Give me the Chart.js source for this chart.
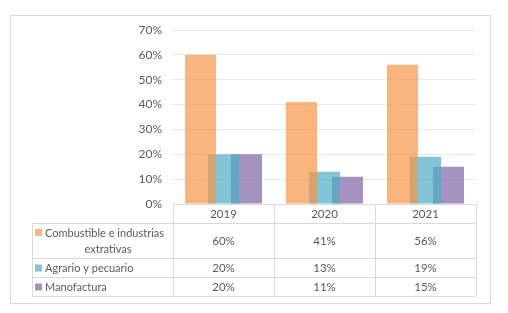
<!DOCTYPE html>
<html>
<head>
<meta charset="utf-8">
<script src="https://cdn.jsdelivr.net/npm/chart.js@4/dist/chart.umd.min.js"></script>
<style>
  html, body { margin: 0; padding: 0; background: #fff; }
  #frame { position: absolute; left: 10px; top: 15px; width: 479px; height: 287px; border: 1px solid #d9d9d9; }
  #wrap { position: absolute; left: 0; top: 0; width: 508px; height: 313px; }
</style>
</head>
<body>
<div id="frame"></div>
<div id="wrap"><canvas id="barChart" width="508" height="313"></canvas></div>
<script>
const years = ["2019", "2020", "2021"];
const seriesNames = ["Combustible e industrias extrativas", "Agrario y pecuario", "Manofactura"];
const combustible = [0.60, 0.41, 0.56];
const agrario = [0.20, 0.13, 0.19];
const manofactura = [0.20, 0.11, 0.15];
const yTicks = [0, 0.1, 0.2, 0.3, 0.4, 0.5, 0.6, 0.7];

const colors = ["rgba(247,150,70,0.7)", "rgba(75,172,198,0.7)", "rgba(128,100,162,0.7)"];
const textColor = "#595959";
const fontFamily = "Lato, 'Liberation Sans', sans-serif";

function pct(v) {
  return Math.round(v * 100) + "%";
}

// data table under the plot, laid out on the x scale's categories
const dataTable = {
  id: "dataTable",
  afterDraw(chart) {
    const ctx = chart.ctx;
    const area = chart.chartArea;
    const xs = chart.scales.x;
    const colW = (area.right - area.left) / years.length;
    const tableLeft = 32;
    const rows = [area.bottom, area.bottom + 19, area.bottom + 54, area.bottom + 73, area.bottom + 92];
    const rowValues = [combustible, agrario, manofactura];

    ctx.save();
    ctx.strokeStyle = "#d9d9d9";
    ctx.lineWidth = 1;
    ctx.beginPath();
    // horizontal lines
    ctx.moveTo(area.left, rows[0] + 0.5);
    ctx.lineTo(area.right, rows[0] + 0.5);
    for (let r = 1; r < rows.length; r++) {
      ctx.moveTo(tableLeft, rows[r] + 0.5);
      ctx.lineTo(area.right, rows[r] + 0.5);
    }
    // vertical lines
    ctx.moveTo(tableLeft + 0.5, rows[1]);
    ctx.lineTo(tableLeft + 0.5, rows[4]);
    for (let i = 0; i <= years.length; i++) {
      const x = Math.round(area.left + i * colW) + 0.5;
      ctx.moveTo(x, rows[0]);
      ctx.lineTo(x, rows[4]);
    }
    ctx.stroke();

    ctx.font = "11.5px " + fontFamily;
    ctx.fillStyle = textColor;
    ctx.textBaseline = "middle";
    ctx.textAlign = "center";
    years.forEach((y, i) => {
      const cx = xs.getPixelForValue(i);
      ctx.fillText(y, cx, (rows[0] + rows[1]) / 2 + 1);
      rowValues.forEach((vals, s) => {
        ctx.fillText(pct(vals[i]), cx, (rows[s + 1] + rows[s + 2]) / 2 + 1);
      });
    });

    // row headers with legend keys
    ctx.font = "11px " + fontFamily;
    const keyX = 35;
    const labelX = 45;
    const keyYs = [rows[1] + 9, (rows[2] + rows[3]) / 2, (rows[3] + rows[4]) / 2];
    seriesNames.forEach((name, s) => {
      ctx.fillStyle = colors[s];
      ctx.fillRect(keyX, keyYs[s] - 3, 7, 7);
      ctx.fillStyle = textColor;
      ctx.textAlign = "left";
      if (s === 0) {
        ctx.fillText("Combustible e industrias", labelX, keyYs[s] + 1);
        ctx.textAlign = "center";
        ctx.fillText("extrativas", 108, keyYs[s] + 17);
      } else {
        ctx.fillText(name, labelX, keyYs[s] + 1);
      }
    });
    ctx.restore();
  }
};

new Chart(document.getElementById("barChart"), {
  type: "bar",
  data: {
    labels: years,
    datasets: [
      { label: seriesNames[0], data: combustible, backgroundColor: colors[0] },
      { label: seriesNames[1], data: agrario, backgroundColor: colors[1] },
      { label: seriesNames[2], data: manofactura, backgroundColor: colors[2] },
    ],
  },
  options: {
    responsive: false,
    animation: false,
    layout: { padding: { top: 30, right: 32, bottom: 109, left: 0 } },
    datasets: {
      bar: { categoryPercentage: 0.683, barPercentage: 1.35 },
    },
    plugins: {
      legend: { display: false },
      tooltip: { enabled: false },
    },
    scales: {
      x: { display: false },
      y: {
        min: 0,
        max: 0.7,
        afterFit(scale) { scale.width = 173; },
        afterBuildTicks(scale) { scale.ticks = yTicks.map(v => ({ value: v })); },
        border: { display: false },
        grid: { color: "#e8e8e8", drawTicks: false },
        ticks: {
          padding: 11,
          color: textColor,
          font: { family: fontFamily, size: 12 },
          callback: v => pct(v),
        },
      },
    },
  },
  plugins: [dataTable],
});
</script>
</body>
</html>
